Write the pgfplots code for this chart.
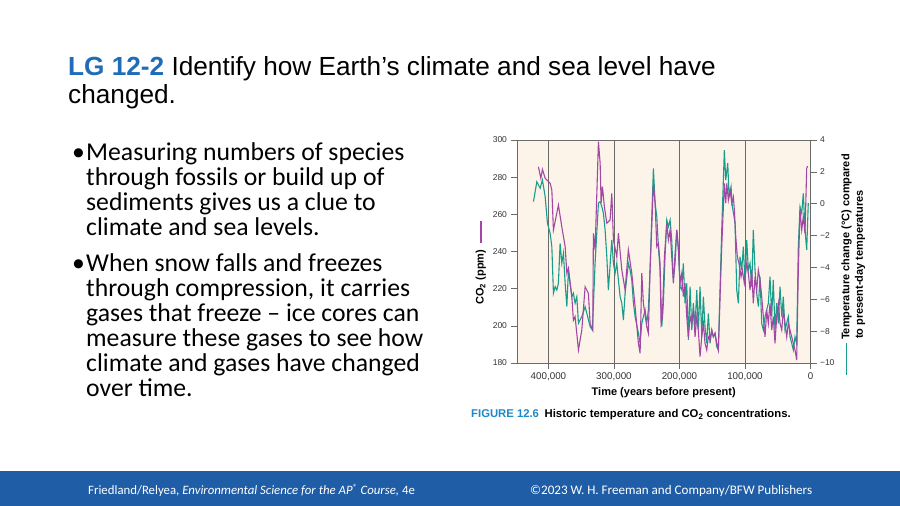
\documentclass[border=0pt]{standalone}
\usepackage{fontspec}
\setmainfont{Liberation Sans}
\newfontfamily\calibri{Carlito}
\usepackage{pgfplots}
\pgfplotsset{compat=1.18}
\definecolor{titleblue}{HTML}{1F6DB8}
\definecolor{footblue}{HTML}{1F5DA6}
\definecolor{capblue}{HTML}{1E88C8}
\definecolor{co2c}{HTML}{A347A6}
\definecolor{tempc}{HTML}{1A9C8A}
\definecolor{cream}{HTML}{FCF4E8}
\definecolor{axgray}{HTML}{6A6A6A}
\definecolor{ticktext}{HTML}{333333}
\begin{document}
\begin{tikzpicture}[x=1pt,y=1pt]
\fill[white] (0,0) rectangle (900,506);
\useasboundingbox (0,0) rectangle (900,506);
\fill[footblue] (0,0) rectangle (900,35);
% title
\node[anchor=base west, inner sep=0] at (68,430) {\fontsize{26.2}{31}\selectfont\textcolor{titleblue}{\bfseries LG 12-2} Identify how Earth’s climate and sea level have};
\node[anchor=base west, inner sep=0] at (68,402) {\fontsize{26.2}{31}\selectfont changed.};
% bullets
\begin{scope}[every node/.style={anchor=base west, inner sep=0, font=\calibri\fontsize{25.7}{30}\selectfont}]
\node at (72,345) {•};
\node at (86,345) {Measuring numbers of species};
\node at (86,320) {through fossils or build up of};
\node at (86,295) {sediments gives us a clue to};
\node at (86,270) {climate and sea levels.};
\node at (72,234) {•};
\node at (86,234) {When snow falls and freezes};
\node at (86,209) {through compression, it carries};
\node at (86,184) {gases that freeze – ice cores can};
\node at (86,159) {measure these gases to see how};
\node at (86,134) {climate and gases have changed};
\node at (86,109) {over time.};
\end{scope}
% footer
\node[anchor=base west, inner sep=0, text=white] at (88,11) {\calibri\fontsize{12.8}{15}\selectfont Friedland/Relyea, \textit{Environmental Science for the AP\textsuperscript{®} Course,} 4e};
\node[anchor=base west, inner sep=0, text=white] at (530,11) {\calibri\fontsize{13.1}{15}\selectfont ©2023 W. H. Freeman and Company/BFW Publishers};
% caption
\node[anchor=base west, inner sep=0] at (471,88) {\bfseries\fontsize{11.3}{13}\selectfont\textcolor{capblue}{FIGURE 12.6}\enspace Historic temperature and CO\textsubscript{2} concentrations.};

% temperature axis (background, box, right axis)
\begin{axis}[at={(517pt,143pt)}, anchor=south west, scale only axis,
  width=293.5pt, height=223pt,
  xmin=0, xmax=448000, x dir=reverse, ymin=-10, ymax=4,
  /pgf/number format/assume math mode=true,
  scaled x ticks=false, scaled y ticks=false,
  axis background/.style={fill=cream},
  axis line style={axgray, line width=0.6pt},
  every tick/.style={axgray, line width=0.6pt},
  tick align=outside, major tick length=6pt,
  xtick={400000,300000,200000,100000,0},
  xticklabels={{400,000},{300,000},{200,000},{100,000},0},
  xtick pos=bottom, ytick pos=right,
  xmajorgrids, major grid style={axgray, line width=0.6pt},
  ytick={-10,-8,-6,-4,-2,0,2,4},
  yticklabels={−10,−8,−6,−4,−2,0,2,4},
  yticklabel pos=right,
  yticklabel style={font=\fontsize{8.5}{10}\selectfont, text=ticktext},
  xticklabel style={font=\fontsize{9.8}{11}\selectfont, text=ticktext},
  xlabel={Time (years before present)},
  xlabel style={font=\bfseries\fontsize{11}{13}\selectfont},
  ylabel near ticks,
  ylabel={\textcolor{tempc}{\rule[0.35ex]{32pt}{1.3pt}}\ Temperature change (°C) compared\\to present-day temperatures},
  ylabel style={at={(ticklabel cs:0.45)}, font=\bfseries\fontsize{11}{13.5}\selectfont, align=center, xshift=-2pt},
  clip=true]
\addplot[tempc, line width=1.1pt] coordinates {
(422900,0.13) (417700,1.38) (412700,0.97) (409200,1.49) (405000,0.44) (401500,-1.23)
(397400,-1.86) (394800,-2.70) (392400,-5.62) (389800,-5.21) (387200,-5.42) (384800,-5.00)
(382200,-2.49) (379600,-3.74) (377100,-3.11) (374500,-5.00) (371900,-6.46) (369500,-4.16)
(366900,-5.00) (364300,-5.84) (361900,-5.62) (359300,-6.25) (356700,-5.84) (354200,-7.51)
(349100,-7.09) (344000,-6.46) (341400,-6.88) (336400,-7.72) (332900,-7.93) (328800,-3.74)
(323700,0.03) (321100,0.13) (318500,-0.19) (316100,-0.60) (313500,-1.65) (310900,-3.32)
(308500,-5.42) (303300,-2.28) (300800,-3.74) (298300,-4.37) (295700,-3.74) (293200,-4.79)
(290600,-5.84) (288000,-6.25) (285600,-7.30) (283000,-5.62) (278000,-3.74) (275400,-4.16)
(272800,-4.79) (270300,-6.25) (267700,-7.09) (262700,-8.13) (260100,-8.76) (257500,-7.51)
(252500,-6.67) (249900,-7.51) (247500,-6.67) (244900,-4.16) (239800,2.22) (237200,0.03)
(234600,-0.81) (232200,-2.70) (229600,-4.16) (227000,-7.72) (224600,-6.25) (222000,-3.32)
(219400,-1.02) (216900,-1.44) (214300,-1.02) (211800,-2.28) (209300,-4.79) (206700,-3.74)
(204100,-1.65) (201700,-2.91) (199100,-5.21) (196500,-5.42) (194100,-3.74) (191500,-6.25)
(188900,-5.00) (186400,-8.55) (183800,-5.21) (181200,-7.93) (178800,-6.25) (176200,-7.72)
(173600,-5.42) (171200,-7.93) (168600,-5.21) (166000,-8.35) (163500,-5.84) (161000,-7.72)
(158400,-8.76) (155900,-6.88) (153300,-8.76) (150700,-7.93) (148300,-8.35) (145700,-8.13)
(143100,-8.97) (140700,-9.18) (135500,-1.65) (131500,3.37) (129400,1.49) (126300,2.54)
(124300,0.44) (121300,1.07) (119300,-0.19) (116700,-0.81) (115200,-1.23) (112600,-5.42)
(110100,-6.25) (107600,-3.32) (105000,-4.16) (102500,-2.70) (99900,-5.00) (97300,-2.28)
(94900,-4.16) (92300,-3.74) (89700,-5.21) (87300,-1.65) (84700,-4.16) (82100,-5.62)
(79600,-6.46) (77000,-4.58) (74500,-7.51) (72000,-7.93) (69400,-7.09) (64400,-6.25)
(61800,-4.58) (59200,-7.09) (56800,-4.79) (54200,-7.93) (51600,-6.25) (49100,-7.51)
(46500,-5.21) (43900,-7.09) (41500,-5.84) (38900,-7.93) (33900,-7.09) (31300,-8.35)
(28700,-8.76) (26200,-9.18) (23600,-8.35) (21100,-8.76) (18600,-2.70) (16000,-0.19)
(13400,-0.60) (11000,0.65) (8400,-1.65) (5800,-2.90) (3400,0.03)
};
\end{axis}

% CO2 axis (left)
\begin{axis}[at={(517pt,143pt)}, anchor=south west, scale only axis,
  width=293.5pt, height=223pt,
  xmin=0, xmax=448000, x dir=reverse, ymin=180, ymax=300,
  /pgf/number format/assume math mode=true,
  hide x axis, axis y line*=left,
  axis line style={axgray, line width=0.6pt},
  every tick/.style={axgray, line width=0.6pt},
  tick align=outside, major tick length=6.5pt,
  ytick={180,200,...,300},
  yticklabel style={font=\fontsize{8.5}{10}\selectfont, text=ticktext},
  ylabel near ticks,
  ylabel={CO\textsubscript{2} (ppm)\hspace{7pt}\textcolor{co2c}{\rule[0.35ex]{22pt}{1.3pt}}},
  ylabel style={at={(ticklabel cs:0.45)}, font=\bfseries\fontsize{11}{13}\selectfont}]
\addplot[co2c, line width=1.1pt] coordinates {
(415300,285.6) (411600,279.4) (409200,284.2) (405000,279.4) (397400,276.7) (394800,273.0)
(392400,251.6) (384800,265.0) (379600,253.3) (374500,242.6) (371900,228.3) (369500,231.0)
(366900,222.9) (364300,215.7) (361900,203.0) (359300,204.9) (354200,187.0) (349100,197.7)
(344000,221.0) (339000,217.5) (336400,201.3) (332300,197.7) (331400,249.8) (328800,240.8)
(323700,299.1) (321100,287.5) (319600,266.0) (317600,274.9) (314600,264.1) (310900,255.2)
(305900,257.0) (303300,271.3) (300800,246.2) (295700,237.2) (293200,249.8) (288000,230.0)
(283000,219.3) (278000,240.8) (272800,228.3) (267700,210.3) (262700,190.6) (260100,185.2)
(257500,228.3) (255100,212.2) (249900,199.5) (247500,196.0) (244900,230.0) (239800,276.7)
(237200,266.0) (234600,242.6) (232200,244.4) (229600,233.6) (228100,201.3) (226100,204.9)
(223000,237.2) (219400,255.2) (216900,246.2) (214300,251.6) (211800,237.2) (209300,222.9)
(206700,239.0) (204100,251.6) (201700,242.6) (199100,222.9) (196500,228.3) (194100,215.7)
(191500,222.9) (188900,204.9) (186400,194.1) (183800,204.9) (181200,201.3) (178800,208.4)
(176200,194.1) (173600,204.9) (171200,197.7) (168600,183.4) (166000,194.1) (163500,201.3)
(161000,190.6) (158400,187.0) (155900,194.1) (153300,192.4) (150700,197.7) (148300,194.1)
(145700,196.0) (143100,190.6) (140700,187.0) (135500,242.6) (131500,276.7) (129400,266.0)
(127800,276.7) (125400,267.7) (122800,273.1) (120200,266.0) (117800,269.5) (116200,262.3)
(114100,248.0) (111700,237.2) (109100,233.6) (106000,226.4) (104000,230.0) (101000,222.9)
(97300,233.6) (94900,228.3) (92300,219.3) (89700,230.0) (87300,212.1) (84700,226.4)
(82100,219.3) (79600,230.0) (77000,224.6) (74500,215.7) (72000,204.9) (69400,194.1)
(66800,208.4) (64400,201.3) (61800,212.1) (59200,197.7) (56800,204.9) (54200,190.6)
(51600,204.9) (49100,212.1) (46500,201.3) (43900,197.7) (41500,208.4) (38900,201.3)
(36300,194.1) (33900,201.3) (31300,197.7) (28700,194.1) (26200,190.6) (23600,187.0)
(21100,181.6) (18600,230.0) (16000,262.3) (13400,251.6) (11000,258.7) (8400,249.8)
(5800,284.8) (4300,286.0)
};
\end{axis}
\end{tikzpicture}
\end{document}
